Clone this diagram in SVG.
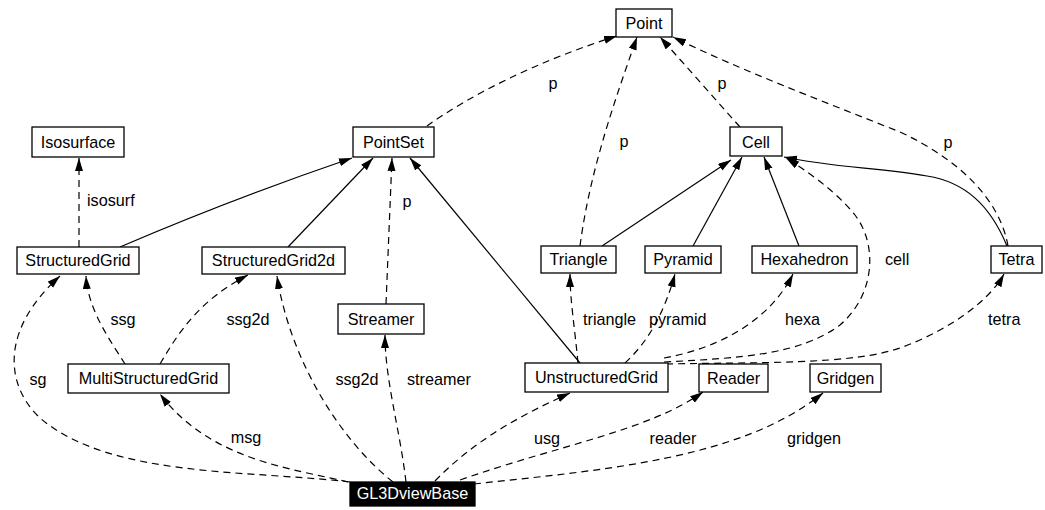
<svg xmlns="http://www.w3.org/2000/svg" width="1045" height="510" viewBox="0 0 1045 510">
<defs>
<marker id="ah" markerUnits="userSpaceOnUse" markerWidth="14" markerHeight="10" refX="13" refY="4" orient="auto">
<path d="M0,0 L13,4 L0,8 z" fill="#000"/>
</marker>
<style>
.node rect{fill:#fff;stroke:#000;stroke-width:1.3}
.node text{font-family:"Liberation Sans",Arial,sans-serif;font-size:16.2px;fill:#000;text-anchor:middle}
.dark rect{fill:#000;stroke:#000}
.dark text{fill:#fff}
.edge{fill:none;stroke:#000;stroke-width:1.2;marker-end:url(#ah)}
.dash{stroke-dasharray:7,5}
.lbl{font-family:"Liberation Sans",Arial,sans-serif;font-size:16.2px;fill:#000}
</style>
</defs>
<rect width="1045" height="510" fill="#fff"/>
<g id="connectors">
<!-- inheritance (solid) -->
<path class="edge" d="M120,247 Q232,199 352,158"/>
<path class="edge" d="M288,247 L373,158"/>
<path class="edge" d="M580,363 L410,158"/>
<path class="edge" d="M602,246 L731,160"/>
<path class="edge" d="M693,246 L742,157"/>
<path class="edge" d="M799,246 L764,157"/>
<path class="edge" d="M1007,246 C990,205 965,182 927,176 C880,168 830,167 784,157"/>
<!-- usage (dashed) -->
<path class="edge dash" d="M427,126 C470,95 540,60 617,36"/>
<path class="edge dash" d="M580,246 C590,170 615,100 637,37"/>
<path class="edge dash" d="M740,127 L660,37"/>
<path class="edge dash" d="M1008,246 C1000,200 960,160 900,132 C820,100 740,70 673,37"/>
<path class="edge dash" d="M79,247 L79,158"/>
<path class="edge dash" d="M386,304 L392,158"/>
<path class="edge dash" d="M350,482 C250,470 110,478 40,418 C5,385 0,330 60,276"/>
<path class="edge dash" d="M348,482 C290,468 210,460 160,394"/>
<path class="edge dash" d="M125,364 C110,340 88,310 86,276"/>
<path class="edge dash" d="M160,364 C180,330 200,300 248,275"/>
<path class="edge dash" d="M393,482 C340,440 290,360 277,276"/>
<path class="edge dash" d="M406,482 C400,430 385,380 385,335"/>
<path class="edge dash" d="M435,481 C470,445 510,420 570,393"/>
<path class="edge dash" d="M460,480 C560,445 650,430 703,392"/>
<path class="edge dash" d="M474,484 C600,470 740,460 823,393"/>
<path class="edge dash" d="M578,363 C575,330 570,300 570,274"/>
<path class="edge dash" d="M625,363 C650,340 665,310 675,274"/>
<path class="edge dash" d="M664,358 C720,348 770,320 793,274"/>
<path class="edge dash" d="M664,362 C740,358 800,355 840,325 C875,295 878,245 855,215 C835,190 805,170 786,158"/>
<path class="edge dash" d="M666,364 C760,362 850,365 900,348 C950,330 990,300 1004,274"/>
</g>
<g id="labels">
<text class="lbl" x="553" y="89" text-anchor="middle">p</text>
<text class="lbl" x="624" y="147" text-anchor="middle">p</text>
<text class="lbl" x="722" y="89" text-anchor="middle">p</text>
<text class="lbl" x="948" y="148" text-anchor="middle">p</text>
<text class="lbl" x="407" y="207" text-anchor="middle">p</text>
<text class="lbl" x="87" y="206">isosurf</text>
<text class="lbl" x="123" y="325" text-anchor="middle">ssg</text>
<text class="lbl" x="248" y="325" text-anchor="middle">ssg2d</text>
<text class="lbl" x="38" y="385" text-anchor="middle">sg</text>
<text class="lbl" x="246" y="443" text-anchor="middle">msg</text>
<text class="lbl" x="357" y="385" text-anchor="middle">ssg2d</text>
<text class="lbl" x="407" y="385">streamer</text>
<text class="lbl" x="547" y="444" text-anchor="middle">usg</text>
<text class="lbl" x="673" y="444" text-anchor="middle">reader</text>
<text class="lbl" x="787" y="444">gridgen</text>
<text class="lbl" x="583" y="325">triangle</text>
<text class="lbl" x="649" y="325">pyramid</text>
<text class="lbl" x="785" y="325">hexa</text>
<text class="lbl" x="885" y="265">cell</text>
<text class="lbl" x="988" y="325">tetra</text>
</g>
<g id="Point" class="node"><rect x="616" y="9" width="56" height="28"/><text x="644" y="29">Point</text></g>
<g id="Isosurface" class="node"><rect x="32" y="127" width="92" height="30"/><text x="78" y="148">Isosurface</text></g>
<g id="PointSet" class="node"><rect x="353" y="127" width="81" height="30"/><text x="393.5" y="148">PointSet</text></g>
<g id="Cell" class="node"><rect x="730" y="127" width="52" height="29"/><text x="756" y="148">Cell</text></g>
<g id="StructuredGrid" class="node"><rect x="17" y="247" width="122" height="27"/><text x="78" y="266">StructuredGrid</text></g>
<g id="StructuredGrid2d" class="node"><rect x="202" y="247" width="143" height="27"/><text x="273.5" y="266">StructuredGrid2d</text></g>
<g id="Triangle" class="node"><rect x="541" y="246" width="75" height="27"/><text x="578.5" y="265">Triangle</text></g>
<g id="Pyramid" class="node"><rect x="645" y="246" width="76" height="27"/><text x="683" y="265">Pyramid</text></g>
<g id="Hexahedron" class="node"><rect x="752" y="246" width="105" height="27"/><text x="804.5" y="265">Hexahedron</text></g>
<g id="Tetra" class="node"><rect x="991" y="246" width="51" height="27"/><text x="1016.5" y="265">Tetra</text></g>
<g id="Streamer" class="node"><rect x="338" y="304" width="86" height="30"/><text x="381" y="325">Streamer</text></g>
<g id="MultiStructuredGrid" class="node"><rect x="68" y="364" width="161" height="29"/><text x="148.5" y="384">MultiStructuredGrid</text></g>
<g id="UnstructuredGrid" class="node"><rect x="525" y="363" width="143" height="29"/><text x="596.5" y="383">UnstructuredGrid</text></g>
<g id="Reader" class="node"><rect x="699" y="364" width="69" height="28"/><text x="733.5" y="384">Reader</text></g>
<g id="Gridgen" class="node"><rect x="810" y="364" width="71" height="28"/><text x="845.5" y="384">Gridgen</text></g>
<g id="GL3DviewBase" class="node dark"><rect x="350" y="482" width="125" height="24"/><text x="412.5" y="499">GL3DviewBase</text></g>
</svg>
